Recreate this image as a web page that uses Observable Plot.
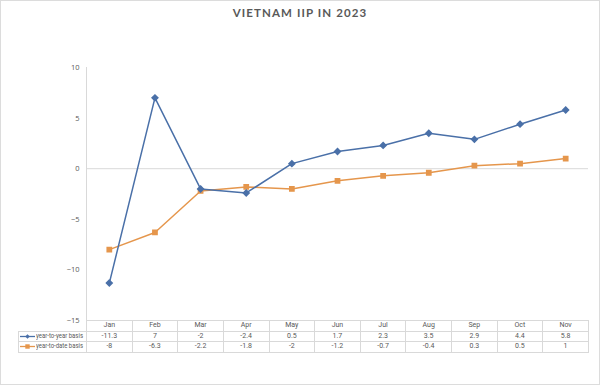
<!DOCTYPE html>
<html>
<head>
<meta charset="utf-8">
<script src="https://cdn.jsdelivr.net/npm/d3@7"></script>
<script src="https://cdn.jsdelivr.net/npm/@observablehq/plot@0.6"></script>
<style>
  html, body { margin: 0; padding: 0; background: #fff; }
  #wrap { position: relative; width: 600px; height: 385px; box-sizing: border-box; border: 1px solid #dcdcdc; background: #fff; font-family: "Open Sans", Lato, sans-serif; overflow: hidden; }
  #title { height: 29px; line-height: 24px; text-align: center; font-family: Lato, "Open Sans", sans-serif; font-size: 11.5px; font-weight: bold; letter-spacing: 1.1px; color: #595959; }
  #chart svg { display: block; overflow: visible; max-width: none; }
  #tbl { position: absolute; left: 17px; top: 319px; border-collapse: collapse; table-layout: fixed; font-size: 7px; color: #595959; font-family: "Liberation Sans Narrow", Roboto, sans-serif; }
  #tbl td { border: 1px solid #d9d9d9; text-align: center; padding: 0; height: 9.5px; line-height: 9px; white-space: nowrap; overflow: hidden; }
  #tbl td.blank { border: none; }
  #tbl td.lab { text-align: left; padding-left: 1px; }
  #tbl td.lab svg { vertical-align: middle; margin-right: 1px; }
  #tbl td.lab span { display: inline-block; transform-origin: 0 50%; vertical-align: middle; }
</style>
</head>
<body>
<div id="wrap">
  <div id="title">VIETNAM IIP IN 2023</div>
  <div id="chart"></div>
</div>
<script>
const months = ["Jan","Feb","Mar","Apr","May","Jun","Jul","Aug","Sep","Oct","Nov"];
const yoyValues = [-11.3, 7, -2, -2.4, 0.5, 1.7, 2.3, 3.5, 2.9, 4.4, 5.8];
const ytdValues = [-8, -6.3, -2.2, -1.8, -2, -1.2, -0.7, -0.4, 0.3, 0.5, 1];
const yTicks = [10, 5, 0, -5, -10, -15];
const seriesNames = ["year-to-year basis", "year-to-date basis"];
const seriesColors = ["#4a70a8", "#e5964c"];

const yoy = months.map((m, i) => ({month: m, value: yoyValues[i]}));
const ytd = months.map((m, i) => ({month: m, value: ytdValues[i]}));

const plot = Plot.plot({
  width: 598,
  height: 290,
  marginLeft: 85,
  marginRight: 11,
  marginTop: 37,
  marginBottom: 0,
  style: {fontFamily: "'Open Sans', Lato, sans-serif", overflow: "visible"},
  x: {type: "band", domain: months, padding: 0, round: false, axis: null},
  y: {domain: [-15, 10], axis: null},
  marks: [
    Plot.axisY({ticks: yTicks, tickSize: 0, tickPadding: 7, fontSize: 7.5, color: "#595959", label: null}),
    Plot.frame({anchor: "left", stroke: "#d9d9d9"}),
    Plot.ruleY([0], {stroke: "#d9d9d9"}),
    Plot.line(ytd, {x: "month", y: "value", stroke: seriesColors[1], strokeWidth: 1.5}),
    Plot.dot(ytd, {x: "month", y: "value", symbol: "square", r: 2.4, fill: seriesColors[1], stroke: seriesColors[1]}),
    Plot.line(yoy, {x: "month", y: "value", stroke: seriesColors[0], strokeWidth: 1.5}),
    Plot.dot(yoy, {x: "month", y: "value", symbol: "diamond2", r: 2.6, fill: seriesColors[0], stroke: seriesColors[0]})
  ]
});
document.getElementById("chart").appendChild(plot);

// data table aligned to the plot's x scale
const xs = plot.scale("x");
const bw = xs.bandwidth;
const leftCol = xs.apply(months[0]) - 17;
const tbl = document.createElement("table");
tbl.id = "tbl";
tbl.style.width = (leftCol + bw * months.length) + "px";
const cg = document.createElement("colgroup");
const c0 = document.createElement("col"); c0.style.width = leftCol + "px"; cg.appendChild(c0);
months.forEach(() => { const c = document.createElement("col"); c.style.width = bw + "px"; cg.appendChild(c); });
tbl.appendChild(cg);
const hdr = document.createElement("tr");
const blank = document.createElement("td"); blank.className = "blank"; hdr.appendChild(blank);
months.forEach(m => { const td = document.createElement("td"); td.textContent = m; hdr.appendChild(td); });
tbl.appendChild(hdr);
const markers = [
  '<svg width="15" height="7"><line x1="0" y1="3.5" x2="15" y2="3.5" stroke="#4a70a8" stroke-width="1.3"/><path d="M7.5,1.2 L9.8,3.5 L7.5,5.8 L5.2,3.5Z" fill="#4a70a8"/></svg>',
  '<svg width="15" height="7"><line x1="0" y1="3.5" x2="15" y2="3.5" stroke="#e5964c" stroke-width="1.3"/><rect x="5.3" y="1.3" width="4.4" height="4.4" fill="#e5964c"/></svg>'
];
const labelSpans = [];
[yoyValues, ytdValues].forEach((vals, si) => {
  const tr = document.createElement("tr");
  const lab = document.createElement("td"); lab.className = "lab";
  lab.innerHTML = markers[si];
  const sp = document.createElement("span");
  sp.textContent = seriesNames[si];
  lab.appendChild(sp);
  labelSpans.push(sp);
  tr.appendChild(lab);
  vals.forEach(v => { const td = document.createElement("td"); td.textContent = String(v); tr.appendChild(td); });
  tbl.appendChild(tr);
});
document.getElementById("wrap").appendChild(tbl);
// fit legend labels into the first column (about 47px available, like the reference)
const avail = leftCol - 1 - 15 - 1 - 4;
labelSpans.forEach(sp => {
  const w = sp.getBoundingClientRect().width;
  if (w > avail) sp.style.transform = `scaleX(${avail / w})`;
});
</script>
</body>
</html>
